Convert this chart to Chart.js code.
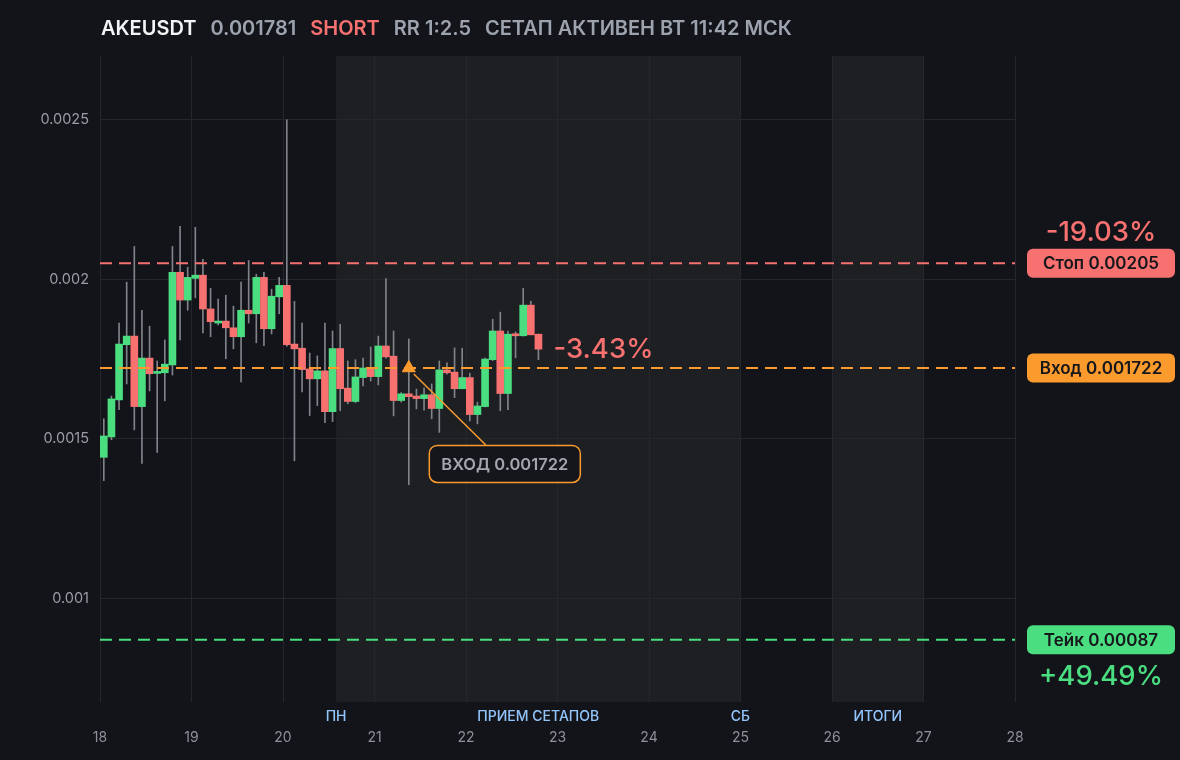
<!DOCTYPE html>
<html>
<head>
<meta charset="utf-8">
<script src="https://cdn.jsdelivr.net/npm/chart.js@4.4.1/dist/chart.umd.min.js"></script>
<style>
  html, body { margin: 0; padding: 0; background: #131419; }
  #wrap { width: 1180px; height: 760px; position: relative; }
</style>
</head>
<body>
<div id="wrap"><canvas id="chart"></canvas></div>
<script>
// 2h candles, first one centred at day 18 + 1h
const firstCandle = 18 + 1 / 24;
const candleStep = 2 / 24;

const opens  = [0.001442, 0.001506, 0.001622, 0.001795, 0.001822, 0.001601, 0.001753, 0.001705, 0.001707, 0.001732,
                0.002022, 0.001935, 0.002003, 0.002013, 0.001907, 0.001863, 0.001869, 0.001848, 0.001820, 0.001903,
                0.001892, 0.002006, 0.001845, 0.001945, 0.001981, 0.001797, 0.001784, 0.001719, 0.001688, 0.001713,
                0.001585, 0.001783, 0.001659, 0.001617, 0.001692, 0.001722, 0.001695, 0.001791, 0.001759, 0.001620,
                0.001641, 0.001634, 0.001626, 0.001638, 0.001595, 0.001716, 0.001709, 0.001657, 0.001692, 0.001576,
                0.001601, 0.001748, 0.001838, 0.001642, 0.001828, 0.001823, 0.001919, 0.001828];
const highs  = [0.001563, 0.001634, 0.001863, 0.001991, 0.002103, 0.001903, 0.001853, 0.001744, 0.001810, 0.002103,
                0.002166, 0.002038, 0.002163, 0.002063, 0.001972, 0.001938, 0.001950, 0.001916, 0.001991, 0.002059,
                0.002016, 0.002022, 0.001969, 0.002006, 0.002500, 0.001931, 0.001863, 0.001769, 0.001760, 0.001863,
                0.001838, 0.001859, 0.001744, 0.001748, 0.001753, 0.001788, 0.001822, 0.002002, 0.001838, 0.001645,
                0.001813, 0.001656, 0.001660, 0.001672, 0.001744, 0.001738, 0.001785, 0.001784, 0.001706, 0.001615,
                0.001753, 0.001875, 0.001897, 0.001838, 0.001835, 0.001972, 0.001931, 0.001828];
const lows   = [0.001369, 0.001497, 0.001591, 0.001672, 0.001528, 0.001423, 0.001650, 0.001457, 0.001619, 0.001700,
                0.001810, 0.001903, 0.001942, 0.001832, 0.001820, 0.001857, 0.001751, 0.001782, 0.001678, 0.001863,
                0.001801, 0.001792, 0.001829, 0.001892, 0.001790, 0.001431, 0.001647, 0.001573, 0.001604, 0.001551,
                0.001554, 0.001588, 0.001610, 0.001613, 0.001666, 0.001681, 0.001669, 0.001753, 0.001572, 0.001615,
                0.001356, 0.001594, 0.001590, 0.001563, 0.001520, 0.001703, 0.001629, 0.001657, 0.001556, 0.001547,
                0.001600, 0.001745, 0.001588, 0.001591, 0.001754, 0.001822, 0.001826, 0.001748];
const closes = [0.001509, 0.001625, 0.001797, 0.001822, 0.001601, 0.001753, 0.001704, 0.001709, 0.001734, 0.002022,
                0.001935, 0.002006, 0.002013, 0.001907, 0.001867, 0.001869, 0.001848, 0.001820, 0.001903, 0.001892,
                0.002006, 0.001845, 0.001947, 0.001981, 0.001795, 0.001782, 0.001717, 0.001688, 0.001713, 0.001585,
                0.001783, 0.001657, 0.001617, 0.001694, 0.001722, 0.001695, 0.001791, 0.001757, 0.001620, 0.001641,
                0.001632, 0.001626, 0.001638, 0.001595, 0.001716, 0.001707, 0.001657, 0.001692, 0.001576, 0.001603,
                0.001750, 0.001838, 0.001642, 0.001828, 0.001823, 0.001919, 0.001826, 0.001781];

const dayTicks = [18, 19, 20, 21, 22, 23, 24, 25, 26, 27, 28];
const yTicks = [0.001, 0.0015, 0.002, 0.0025];

const shadeFrom = [20.58, 26];
const shadeTo   = [25, 27];
const zoneLabels = ['ПН', 'ПРИЕМ СЕТАПОВ', 'СБ', 'ИТОГИ'];
const zoneAt     = [20.58, 22.79, 25, 26.5];

const levelPrices = [0.00205, 0.001722, 0.00087];
const levelLabels = ['Стоп 0.00205', 'Вход 0.001722', 'Тейк 0.00087'];
const stopPct = '-19.03%';
const takePct = '+49.49%';
const livePct = '-3.43%';

const entryCandle = 40;
const entryText = 'ВХОД 0.001722';

const header = [
    ['AKEUSDT', '#f3f4f6'],
    ['0.001781', '#9ca3af'],
    ['SHORT', '#f87171'],
    ['RR 1:2.5', '#9ca3af'],
    ['СЕТАП АКТИВЕН ВТ 11:42 МСК', '#9ca3af']
];

const bg = '#131419';
const shade = '#1e1f23';
const gridColor = '#26272c';
const green = '#4ade80';
const red = '#f87171';
const orange = '#fb9b2d';
const levelColors = [red, orange, green];
const FONT = 'Inter, "Noto Sans", sans-serif';

const times = opens.map((o, i) => firstCandle + i * candleStep);

(function(){
    const overlay = {
        id: 'overlay',
        beforeDraw(chart) {
            const {ctx, chartArea: a, scales: {x}} = chart;
            ctx.save();
            ctx.fillStyle = bg;
            ctx.fillRect(0, 0, chart.width, chart.height);
            ctx.fillStyle = shade;
            shadeFrom.forEach(function(from, i) {
                const x0 = x.getPixelForValue(from);
                const x1 = x.getPixelForValue(shadeTo[i]);
                ctx.fillRect(x0, a.top, x1 - x0, a.bottom - a.top);
            });
            ctx.restore();
        },
        afterDatasetsDraw(chart) {
            const {ctx, scales: {x, y}} = chart;
            const mx = x.getPixelForValue(times[entryCandle]);
            const my = y.getPixelForValue(levelPrices[1]);
            ctx.save();
            // callout from the entry marker
            ctx.strokeStyle = orange;
            ctx.lineWidth = 1.5;
            ctx.beginPath();
            ctx.moveTo(mx + 5, my + 6);
            ctx.lineTo(mx + 77, my + 77);
            ctx.stroke();

            ctx.beginPath();
            ctx.roundRect(mx + 20.5, my + 77.5, 151, 37, 8);
            ctx.fillStyle = '#15161b';
            ctx.fill();
            ctx.stroke();
            ctx.fillStyle = '#a3a6ad';
            ctx.font = '600 16.5px ' + FONT;
            ctx.textAlign = 'center';
            ctx.textBaseline = 'middle';
            ctx.fillText(entryText, mx + 96, my + 97);

            // live percent next to the last candle
            const last = closes.length - 1;
            ctx.fillStyle = red;
            ctx.font = '500 27.5px ' + FONT;
            ctx.textAlign = 'left';
            ctx.fillText(livePct, x.getPixelForValue(times[last]) + 15, y.getPixelForValue(closes[last]) + 1);
            ctx.restore();
        },
        afterDraw(chart) {
            const {ctx, chartArea: a, scales: {x, y}} = chart;
            ctx.save();
            ctx.textBaseline = 'middle';

            // header line
            ctx.font = '600 20px ' + FONT;
            let hx = 101;
            header.forEach(function(item) {
                ctx.fillStyle = item[1];
                ctx.textAlign = 'left';
                ctx.fillText(item[0], hx, 29);
                hx += ctx.measureText(item[0]).width + 14;
            });

            // zone captions under the plot
            ctx.font = '500 14px ' + FONT;
            ctx.fillStyle = '#93c5fd';
            ctx.textAlign = 'center';
            zoneLabels.forEach(function(label, i) {
                ctx.fillText(label, x.getPixelForValue(zoneAt[i]), a.bottom + 15);
            });

            // price tags on the right
            const bx = a.right + 12;
            const cx = bx + 74;
            levelPrices.forEach(function(price, i) {
                const py = y.getPixelForValue(price);
                ctx.fillStyle = levelColors[i];
                ctx.beginPath();
                ctx.roundRect(bx, py - 14.5, 148, 29, 6);
                ctx.fill();
                ctx.fillStyle = '#16171b';
                ctx.font = '600 17px ' + FONT;
                ctx.fillText(levelLabels[i], cx, py + 1);
            });

            ctx.font = '500 27.5px ' + FONT;
            ctx.fillStyle = red;
            ctx.fillText(stopPct, cx, y.getPixelForValue(levelPrices[0]) - 31);
            ctx.fillStyle = green;
            ctx.fillText(takePct, cx, y.getPixelForValue(levelPrices[2]) + 37);
            ctx.restore();
        }
    };

    function levelLine(i) {
        return {
            type: 'line',
            data: [{x: dayTicks[0], y: levelPrices[i]}, {x: dayTicks[dayTicks.length - 1], y: levelPrices[i]}],
            borderColor: levelColors[i],
            borderWidth: 2,
            borderDash: [12, 7],
            pointRadius: 0,
            order: 0
        };
    }

    const config = {
        type: 'bar',
        data: {
            datasets: [
                {
                    type: 'scatter',
                    data: [{x: times[entryCandle], y: levelPrices[1]}],
                    pointStyle: 'triangle',
                    pointRadius: 7.5,
                    backgroundColor: orange,
                    borderColor: orange,
                    order: -1
                },
                levelLine(0),
                levelLine(1),
                levelLine(2),
                {
                    data: times.map((t, i) => ({x: t, y: [opens[i], closes[i]]})),
                    backgroundColor: closes.map((c, i) => c >= opens[i] ? green : red),
                    barThickness: 7,
                    minBarLength: 2,
                    grouped: false,
                    order: 1
                },
                {
                    data: times.map((t, i) => ({x: t, y: [lows[i], highs[i]]})),
                    backgroundColor: '#80838a',
                    barThickness: 1,
                    grouped: false,
                    order: 2
                }
            ]
        },
        options: {
            responsive: true,
            maintainAspectRatio: false,
            animation: false,
            layout: {
                padding: {top: 56, right: 165, left: 0, bottom: 0}
            },
            plugins: {
                legend: {display: false},
                tooltip: {enabled: false}
            },
            scales: {
                x: {
                    type: 'linear',
                    min: dayTicks[0],
                    max: dayTicks[dayTicks.length - 1],
                    offset: false,
                    afterFit(scale) { scale.height = 58; },
                    afterBuildTicks(scale) { scale.ticks = dayTicks.map(v => ({value: v})); },
                    grid: {
                        color: gridColor,
                        offset: false,
                        drawTicks: false
                    },
                    border: {display: false},
                    ticks: {
                        autoSkip: false,
                        padding: 27,
                        color: '#8e9198',
                        font: {family: FONT, size: 14},
                        callback: v => String(v)
                    }
                },
                y: {
                    min: 0.000675,
                    max: 0.0027,
                    afterFit(scale) { scale.width = 100; },
                    afterBuildTicks(scale) { scale.ticks = yTicks.map(v => ({value: v})); },
                    grid: {
                        color: gridColor,
                        drawTicks: false
                    },
                    border: {display: false},
                    ticks: {
                        padding: 11,
                        color: '#9a9da4',
                        font: {family: FONT, size: 14.5},
                        callback: v => String(+v.toFixed(4))
                    }
                }
            }
        },
        plugins: [overlay]
    };

    new Chart(document.getElementById('chart').getContext('2d'), config);
})();
</script>
</body>
</html>
